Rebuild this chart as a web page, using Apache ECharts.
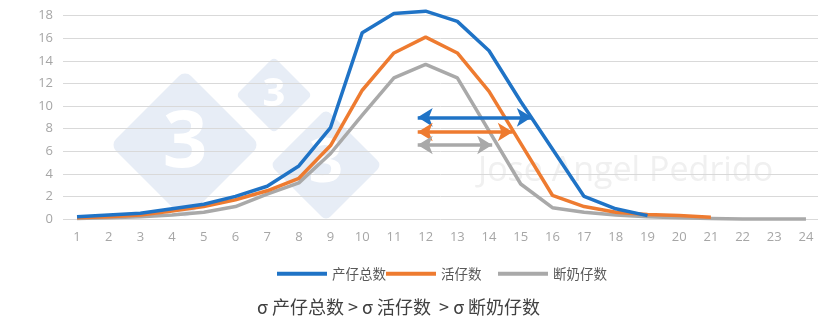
<!DOCTYPE html>
<html>
<head>
<meta charset="utf-8">
<title>产仔数分布</title>
<script src="https://cdn.jsdelivr.net/npm/echarts@6/dist/echarts.min.js"></script>
<style>
  html, body { margin: 0; padding: 0; background: #ffffff; }
  #chart { width: 820px; height: 324px; }
</style>
</head>
<body>
<div id="chart"></div>
<script>
// Litter size (x) tick labels
var xLabels = [1, 2, 3, 4, 5, 6, 7, 8, 9, 10, 11, 12, 13, 14, 15, 16, 17, 18, 19, 20, 21, 22, 23, 24];

// Series names
var seriesNames = ['产仔总数', '活仔数', '断奶仔数'];

// Values per litter size (series end where the data ends)
var totalBorn = [0.2, 0.35, 0.5, 0.9, 1.3, 2.0, 2.9, 4.7, 8.1, 16.5, 18.2, 18.4, 17.5, 14.9, 10.4, 6.2, 2.0, 0.9, 0.3];
var bornAlive = [0.1, 0.2, 0.35, 0.7, 1.1, 1.7, 2.5, 3.6, 6.5, 11.4, 14.7, 16.1, 14.7, 11.3, 6.7, 2.1, 1.1, 0.6, 0.4, 0.3, 0.15];
var weaned    = [0.05, 0.1, 0.2, 0.35, 0.6, 1.1, 2.2, 3.2, 5.8, 9.2, 12.5, 13.7, 12.5, 7.8, 3.1, 1.0, 0.6, 0.35, 0.2, 0.1, 0.05, 0, 0, 0];

// Spread arrows: height, left end, right end
var arrowLevel = [9.0, 7.7, 6.55];
var arrowFrom  = [11.75, 11.75, 11.75];
var arrowTo    = [15.35, 14.75, 14.1];

var colors = ['#1f73c6', '#ee7b30', '#a9a9a9'];

function pairs(vals) {
  return vals.map(function (v, i) { return [xLabels[i], v]; });
}

var valueSets = [totalBorn, bornAlive, weaned];

var series = valueSets.map(function (vals, k) {
  return {
    name: seriesNames[k],
    type: 'line',
    data: pairs(vals),
    symbol: 'none',
    clip: false,
    z: 3 + (2 - k),
    lineStyle: { color: colors[k], width: 3.5 },
    itemStyle: { color: colors[k] },
    markLine: {
      silent: true,
      symbol: ['arrow', 'arrow'],
      symbolSize: [14, 15],
      label: { show: false },
      lineStyle: { color: colors[k], width: 3.5, type: 'solid' },
      data: [[{ coord: [arrowFrom[k], arrowLevel[k]] }, { coord: [arrowTo[k], arrowLevel[k]] }]]
    }
  };
});

// Background logo: three rounded diamonds with a "3"
function diamond(cx, cy, half, fontSize) {
  var side = half * Math.SQRT2;
  return {
    type: 'group',
    x: cx, y: cy,
    silent: true,
    z: -10,
    children: [
      {
        type: 'rect',
        rotation: Math.PI / 4,
        shape: { x: -side / 2, y: -side / 2, width: side, height: side, r: side * 0.08 },
        style: { fill: '#e7edf6' }
      },
      {
        type: 'text',
        style: {
          text: '3', x: 0, y: 0,
          align: 'center', verticalAlign: 'middle',
          fill: '#ffffff',
          font: 'bold ' + fontSize + 'px "Open Sans", sans-serif'
        }
      }
    ]
  };
}

function legendAt(left, name) {
  return {
    left: left, top: 262,
    data: [name],
    icon: 'rect',
    itemWidth: 50, itemHeight: 4,
    itemGap: 0,
    selectedMode: false,
    textStyle: { color: '#595959', fontSize: 13.5, fontFamily: '"Noto Sans CJK SC", sans-serif', padding: [0, 0, 4, 0] }
  };
}

var chart = echarts.init(document.getElementById('chart'), null, { renderer: 'canvas' });

chart.setOption({
  animation: false,
  backgroundColor: '#ffffff',
  grid: { left: 63, right: 2, top: 15.7, bottom: 105, containLabel: false },
  xAxis: {
    type: 'value',
    min: 0.558, max: 24.38,
    axisLine: { show: false },
    axisTick: { show: false },
    splitLine: { show: false },
    axisLabel: {
      customValues: xLabels,
      color: '#a6a6a6', fontSize: 13, margin: 12,
      fontFamily: '"Open Sans", sans-serif'
    }
  },
  yAxis: {
    type: 'value',
    min: 0, max: 18, interval: 2,
    axisLine: { show: false },
    axisTick: { show: false },
    axisLabel: { color: '#a6a6a6', fontSize: 13, margin: 10, fontFamily: '"Open Sans", sans-serif' },
    splitLine: { lineStyle: { color: '#d9d9d9', width: 1 } }
  },
  legend: [
    legendAt(272, seriesNames[0]),
    legendAt(381, seriesNames[1]),
    legendAt(493, seriesNames[2])
  ],
  graphic: [
    diamond(185, 145, 75, 78),
    diamond(274, 95, 38, 40),
    diamond(326, 165, 56, 60),
    {
      type: 'text', silent: true, z: -9,
      style: {
        text: 'Jose Angel Pedrido', x: 478, y: 171,
        verticalAlign: 'middle',
        fill: '#f0f0f0',
        font: '34px "Open Sans", sans-serif'
      }
    },
    {
      type: 'text', silent: true,
      style: {
        text: 'σ 产仔总数 > σ 活仔数  > σ 断奶仔数', x: 257, y: 307,
        verticalAlign: 'middle',
        fill: '#404040',
        font: '18px "Noto Sans CJK SC", sans-serif'
      }
    }
  ],
  series: series
});
</script>
</body>
</html>
